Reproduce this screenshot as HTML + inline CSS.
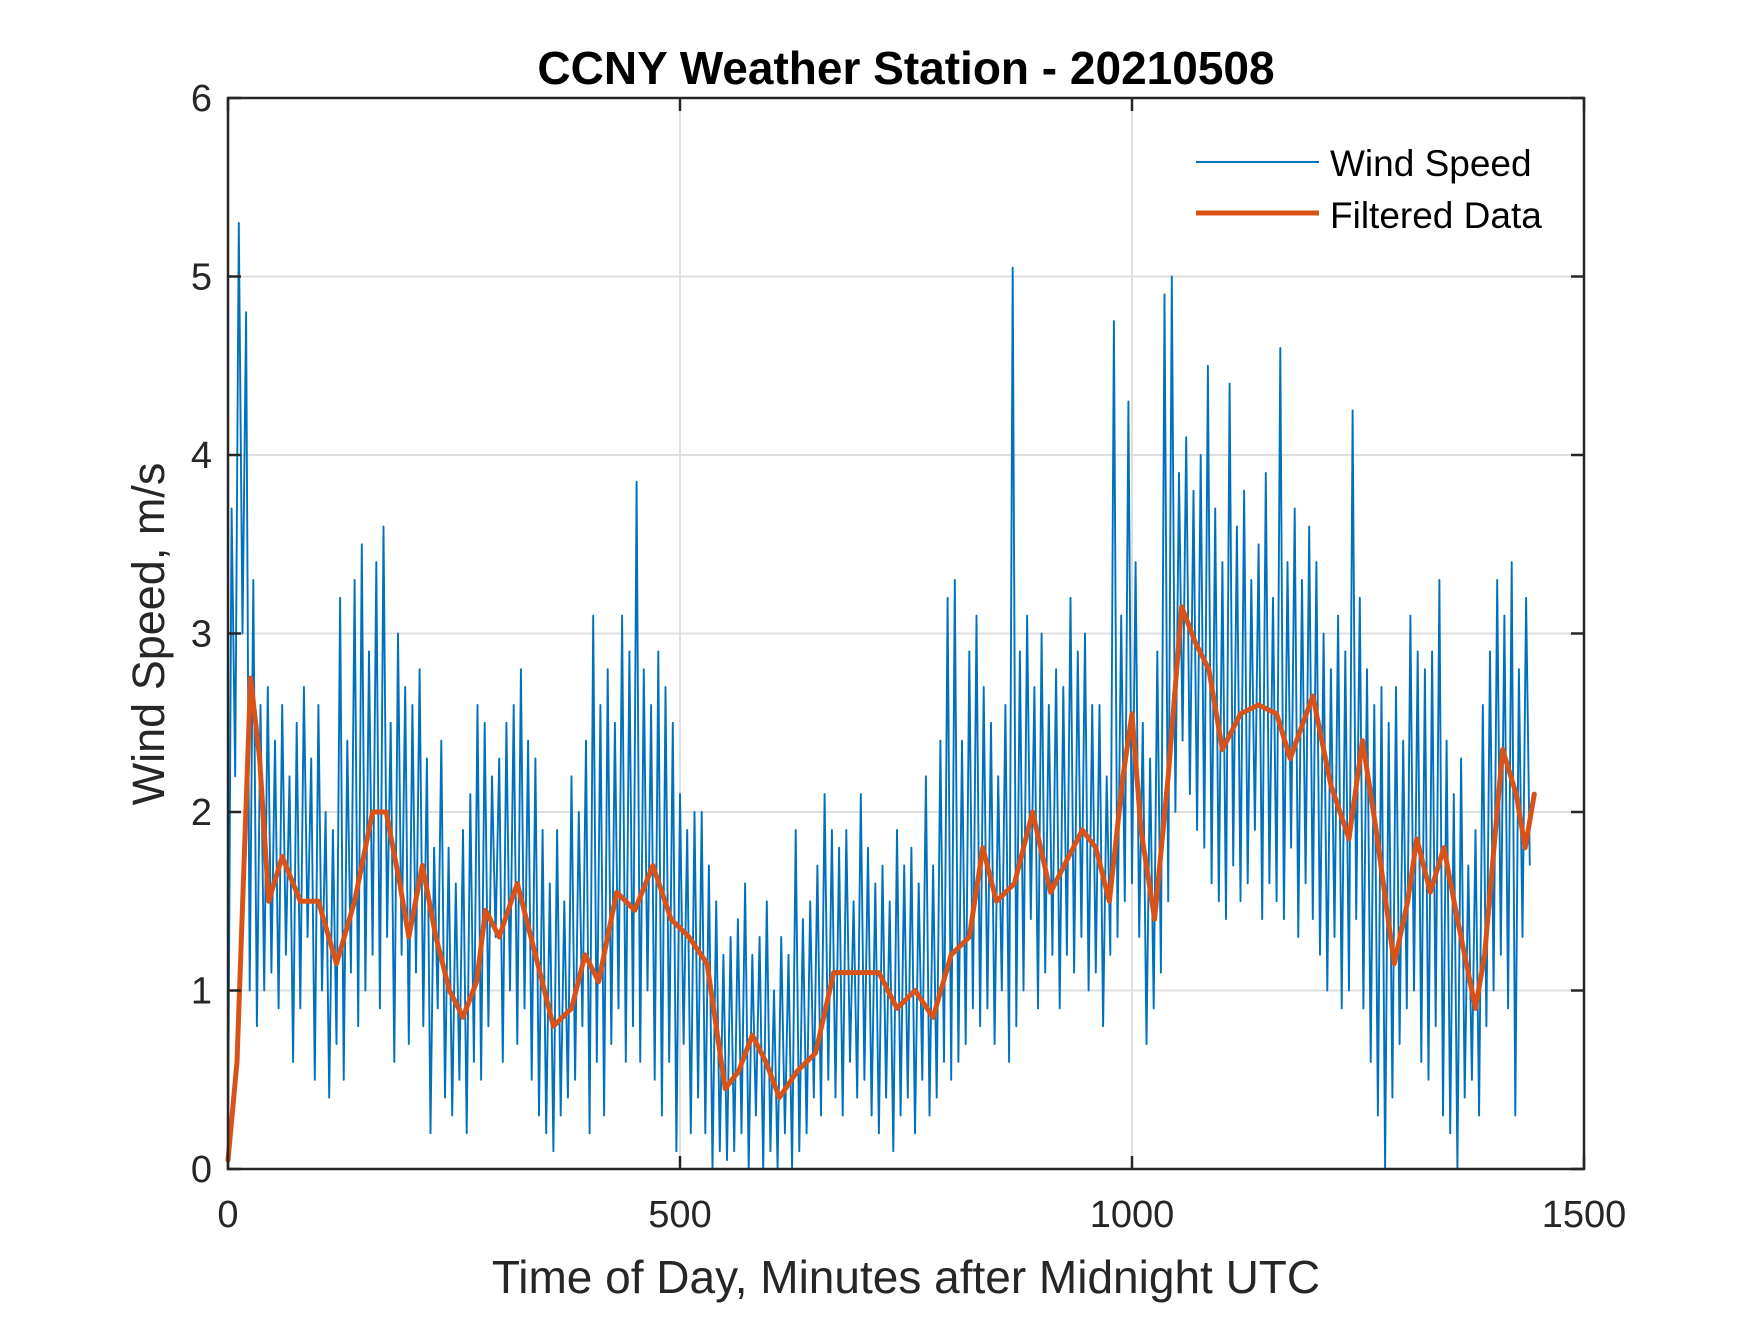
<!DOCTYPE html>
<html><head><meta charset="utf-8"><style>
html,body{margin:0;padding:0;background:#fff;}
svg text{font-family:"Liberation Sans",Arial,sans-serif;fill:#262626;}
</style></head><body>
<svg id="chart" width="1750" height="1313" viewBox="0 0 1750 1313" xmlns="http://www.w3.org/2000/svg">
<rect x="0" y="0" width="1750" height="1313" fill="#fff"/>
<g id="grid"></g>
<g id="series"></g>
<g id="axes"></g>
<text x="906" y="84" font-size="46" font-weight="bold" text-anchor="middle" style="fill:#000">CCNY Weather Station - 20210508</text>
<text x="906" y="1293" font-size="46" text-anchor="middle">Time of Day, Minutes after Midnight UTC</text>
<text x="0" y="0" font-size="45" text-anchor="middle" transform="translate(164,634) rotate(-90)">Wind Speed, m/s</text>
<g>
<line x1="1196" y1="162" x2="1319" y2="162" stroke="#0072BD" stroke-width="2"/>
<text x="1330" y="176" font-size="37" style="fill:#000">Wind Speed</text>
<line x1="1196" y1="213" x2="1319" y2="213" stroke="#D95319" stroke-width="5"/>
<text x="1330" y="228" font-size="37" style="fill:#000">Filtered Data</text>
</g>
</svg>
<script>
const xTicks=[0,500,1000,1500];
const yTicks=[0,1,2,3,4,5,6];
const windStep=4;
const windValues=[
0.1,3.7,2.2,5.3,3.0,4.8,1.0,3.3,0.8,2.6,
1.0,2.7,1.1,2.4,0.9,2.6,1.2,2.2,0.6,2.5,
0.9,2.7,1.3,2.3,0.5,2.6,1.0,2.0,0.4,1.9,
0.7,3.2,0.5,2.4,1.1,3.3,0.8,3.5,1.0,2.9,
1.2,3.4,0.9,3.6,1.3,2.5,0.6,3.0,1.2,2.7,
0.7,2.6,1.1,2.8,0.8,2.3,0.2,1.8,0.9,2.4,
0.4,1.8,0.3,1.6,0.5,1.9,0.2,2.1,0.6,2.6,
0.5,2.5,0.8,2.2,1.3,2.3,0.6,2.5,1.0,2.6,
0.7,2.8,0.9,2.4,0.5,2.3,0.3,1.9,0.2,1.6,
0.1,1.9,0.3,1.5,0.4,2.2,0.5,2.0,0.8,2.4,
0.2,3.1,0.6,2.6,0.3,2.8,0.7,2.5,0.9,3.1,
0.6,2.9,0.8,3.85,0.6,2.8,1.0,2.6,0.5,2.9,
0.3,2.7,0.6,2.5,0.1,2.1,0.7,1.9,0.2,2.0,
0.4,2.0,0.2,1.7,0.0,1.5,0.1,1.2,0.05,1.3,
0.1,1.4,0.2,1.6,0.0,1.2,0.3,1.3,0.0,1.5,
0.1,1.0,0.0,1.3,0.2,1.2,0.0,1.9,0.1,1.4,
0.2,1.5,0.4,1.7,0.3,2.1,0.5,1.9,0.4,1.8,
0.3,1.9,0.6,1.5,0.4,2.1,0.5,1.8,0.3,1.6,
0.2,1.7,0.4,1.5,0.1,1.9,0.3,1.7,0.4,1.8,
0.2,1.6,0.5,2.2,0.3,1.7,0.4,2.4,0.6,3.2,
0.5,3.3,0.6,2.4,0.7,2.9,0.9,3.1,0.8,2.7,
0.9,2.5,0.7,2.2,1.0,2.6,0.6,5.05,0.8,2.9,
1.0,3.1,1.4,2.7,0.9,3.0,1.1,2.6,1.2,2.8,
0.9,2.7,1.2,3.2,1.1,2.9,1.3,3.0,1.0,2.6,
1.1,2.6,0.8,2.2,1.2,4.75,1.3,3.1,1.5,4.3,
1.6,3.4,1.3,2.5,0.7,2.3,0.9,2.9,1.1,4.9,
1.5,5.0,2.0,3.9,2.4,4.1,2.1,3.8,1.9,4.0,
1.8,4.5,1.6,3.7,1.5,3.4,1.4,4.4,1.7,3.6,
1.5,3.8,1.6,3.3,1.9,3.5,1.4,3.9,1.6,3.2,
1.5,4.6,1.4,3.4,1.8,3.7,1.3,3.3,1.6,3.6,
1.4,3.4,1.2,3.0,1.0,2.8,1.3,3.1,0.9,2.9,
1.0,4.25,1.4,3.2,0.9,2.8,0.6,2.6,0.3,2.7,
0.0,2.5,0.4,2.7,0.7,2.4,0.9,3.1,1.0,2.9,
0.6,2.8,0.5,2.9,0.8,3.3,0.3,2.4,0.2,2.1,
0.0,2.3,0.4,1.7,0.5,1.9,0.3,2.6,0.8,2.9,
1.0,3.3,1.2,3.1,0.9,3.4,0.3,2.8,1.3,3.2,1.7];
const filtTimes=[0,10,25,35,45,60,80,100,120,140,160,175,190,200,215,230,245,260,275,285,300,320,340,360,380,395,410,430,450,470,490,510,530,550,565,580,595,610,630,650,670,700,720,740,760,780,800,820,835,850,870,890,910,930,945,960,975,990,1000,1010,1025,1040,1055,1070,1085,1100,1120,1140,1160,1175,1200,1220,1240,1255,1270,1290,1305,1315,1330,1345,1360,1380,1390,1410,1425,1435,1445];
const filtValues=[0.05,0.6,2.75,2.3,1.5,1.75,1.5,1.5,1.15,1.5,2.0,2.0,1.6,1.3,1.7,1.3,1.0,0.85,1.05,1.45,1.3,1.6,1.2,0.8,0.9,1.2,1.05,1.55,1.45,1.7,1.4,1.3,1.15,0.45,0.55,0.75,0.6,0.4,0.55,0.65,1.1,1.1,1.1,0.9,1.0,0.85,1.2,1.3,1.8,1.5,1.6,2.0,1.55,1.75,1.9,1.8,1.5,2.2,2.55,1.9,1.4,2.2,3.15,2.95,2.8,2.35,2.55,2.6,2.55,2.3,2.65,2.15,1.85,2.4,1.9,1.15,1.5,1.85,1.55,1.8,1.4,0.9,1.2,2.35,2.1,1.8,2.1];

const L=228,R=1584,T=98,B=1169,X0=0,X1=1500,Y0=0,Y1=6;
const NS='http://www.w3.org/2000/svg';
function xs(v){return L+(v-X0)/(X1-X0)*(R-L);}
function ys(v){return B-(v-Y0)/(Y1-Y0)*(B-T);}
function mk(tag,attrs,parent){const e=document.createElementNS(NS,tag);for(const k in attrs)e.setAttribute(k,attrs[k]);parent.appendChild(e);return e;}
const grid=document.getElementById('grid'),axes=document.getElementById('axes'),series=document.getElementById('series');
xTicks.forEach(v=>{
  if(v>X0&&v<X1){const g=mk('line',{x1:xs(v),y1:T,x2:xs(v),y2:B,stroke:'#dfdfdf','stroke-width':2},grid);
  
  }
  const t1=mk('line',{x1:xs(v),y1:B,x2:xs(v),y2:B-13,stroke:'#262626','stroke-width':2.5},axes);
  
  
  const t2=mk('line',{x1:xs(v),y1:T,x2:xs(v),y2:T+13,stroke:'#262626','stroke-width':2.5},axes);
  
  
  const lb=mk('text',{x:xs(v),y:1227,'font-size':38,'text-anchor':'middle'},axes);lb.textContent=v;
  
  
});
yTicks.forEach(v=>{
  if(v>Y0&&v<Y1){const g=mk('line',{x1:L,y1:ys(v),x2:R,y2:ys(v),stroke:'#dfdfdf','stroke-width':2},grid);
  
  }
  const t1=mk('line',{x1:L,y1:ys(v),x2:L+13,y2:ys(v),stroke:'#262626','stroke-width':2.5},axes);
  
  
  const t2=mk('line',{x1:R,y1:ys(v),x2:R-13,y2:ys(v),stroke:'#262626','stroke-width':2.5},axes);
  
  
  const lb=mk('text',{x:212,y:ys(v)+13,'font-size':38,'text-anchor':'end'},axes);lb.textContent=v;
  
  
});
const box=mk('rect',{x:L,y:T,width:R-L,height:B-T,fill:'none',stroke:'#262626','stroke-width':2.5},axes);


const wp=windValues.map((v,i)=>xs(i*windStep).toFixed(1)+','+ys(v).toFixed(1)).join(' ');
const wl=mk('polyline',{points:wp,fill:'none',stroke:'#0072BD','stroke-width':1.9,'stroke-linejoin':'round'},series);


const fp=filtValues.map((v,i)=>xs(filtTimes[i]).toFixed(1)+','+ys(v).toFixed(1)).join(' ');
const fl=mk('polyline',{points:fp,fill:'none',stroke:'#D95319','stroke-width':5,'stroke-linejoin':'round','stroke-linecap':'round'},series);


</script>
</body></html>
